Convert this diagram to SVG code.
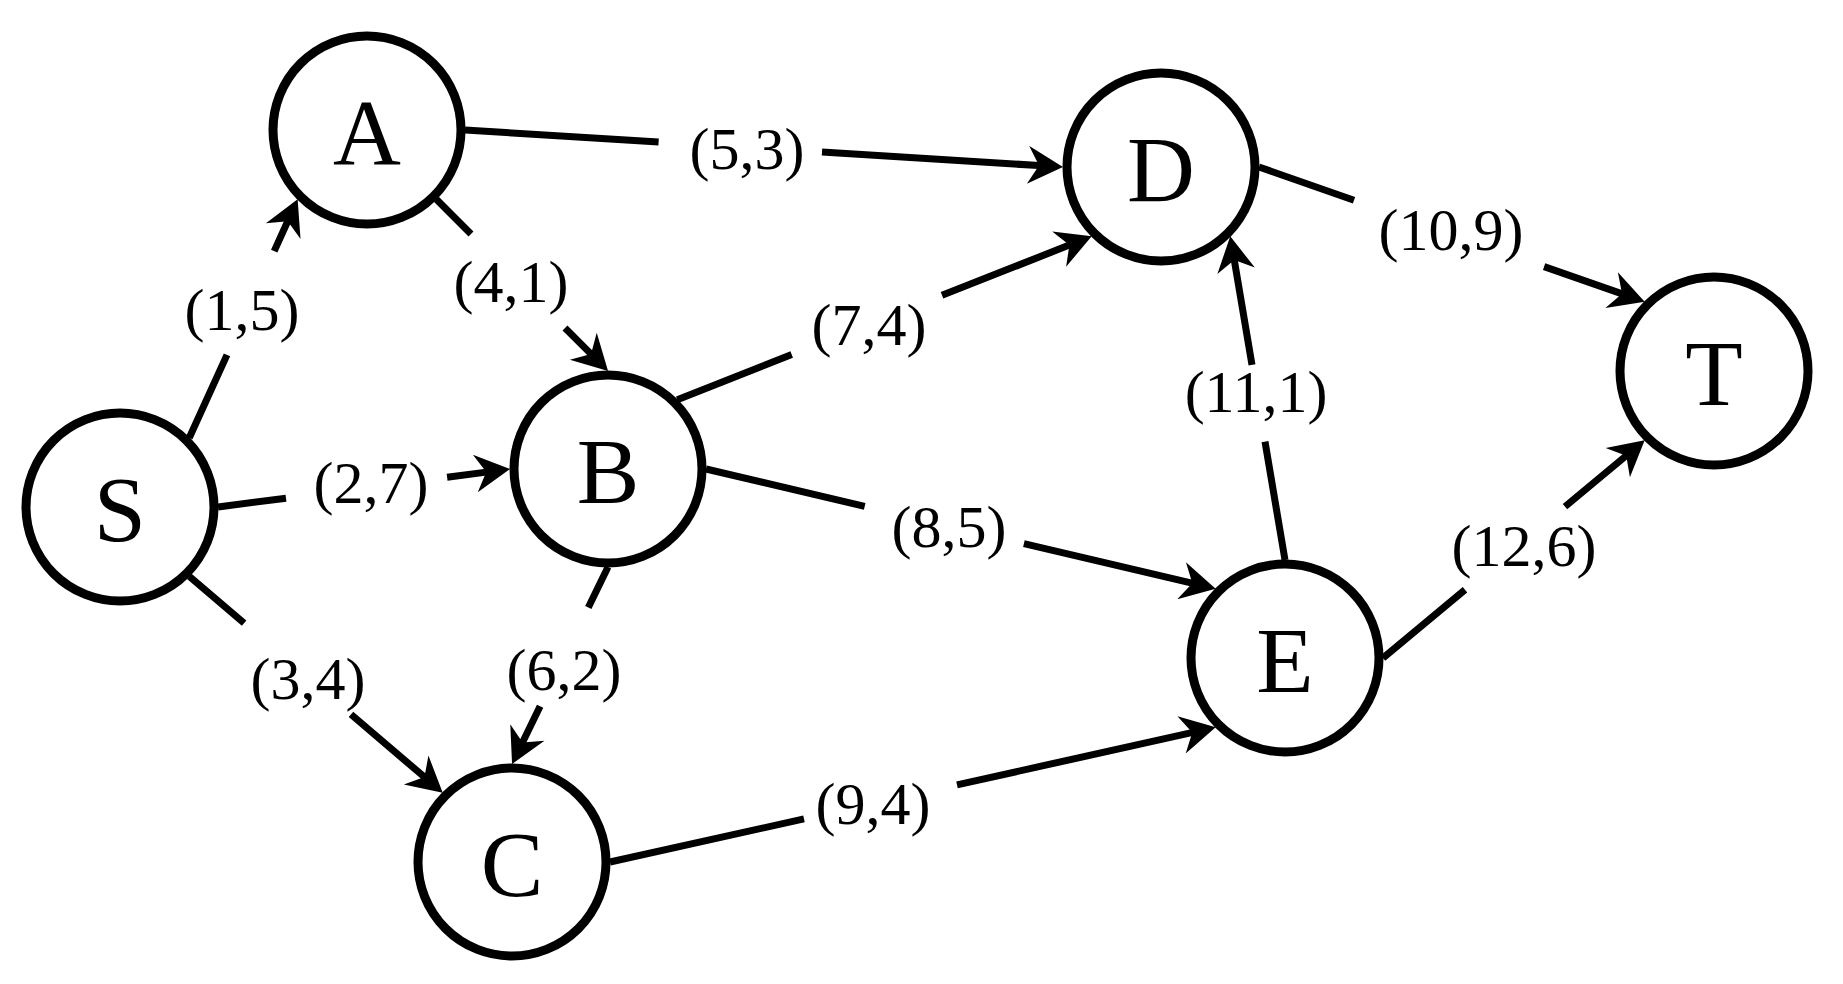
<svg xmlns="http://www.w3.org/2000/svg" width="1843" height="984" viewBox="0 0 1843 984">
<style>
.node circle{fill:#fff;stroke:#000;stroke-width:9}
.node text{font-size:94px;text-anchor:middle;fill:#000}
.edge{stroke:#000;stroke-width:7;fill:none;marker-end:url(#arr)}
.lbl text{font-size:60px;text-anchor:middle;fill:#000}
</style>
<defs>
<marker id="arr" markerUnits="userSpaceOnUse" viewBox="0 0 38 38" markerWidth="38" markerHeight="38" refX="18" refY="19" orient="auto">
<path d="M38,19 L3,0 L14,19 L3,38 Z" fill="#000"/>
</marker>
</defs>
<rect width="1843" height="984" fill="#fff"/>
<g id="connectors">
<path class="edge" d="M189.3,437.7 L227,354.9 M274.2,251.1 L289.4,217.5"/>
<path class="edge" d="M218,507 L286,498.2 M447.1,477.2 L490.2,471.6"/>
<path class="edge" d="M189.3,576.3 L244.1,623.1 M351,714.4 L427.5,779.7"/>
<path class="edge" d="M465,130 L658.6,142 M822,152.1 L1043,165.8"/>
<path class="edge" d="M436.3,199.3 L471,234 M565,328 L593.9,356.9"/>
<path class="edge" d="M677.3,399.7 L791.7,354.6 M942,295.3 L1073.1,243.6"/>
<path class="edge" d="M706,469 L864.7,506.3 M1023.9,543.7 L1196.2,584.1"/>
<path class="edge" d="M608,567 L588.3,607.5 M540.1,706.3 L520.8,746"/>
<path class="edge" d="M610,862 L804,818.9 M957,784.9 L1196.2,731.6"/>
<path class="edge" d="M1259,167 L1354,200.2 M1544.1,266.6 L1625.8,295.1"/>
<path class="edge" d="M1285,560 L1265,441.7 M1252,364.8 L1233.6,256"/>
<path class="edge" d="M1383,658 L1465,589.8 M1565,506.6 L1629.3,453.1"/>
<g class="lbl" font-family="'Liberation Serif', Tinos, 'Times New Roman', Times, serif">
<text x="242" y="330">(1,5)</text>
<text x="371" y="503">(2,7)</text>
<text x="308" y="699">(3,4)</text>
<text x="747" y="169">(5,3)</text>
<text x="511" y="302">(4,1)</text>
<text x="564" y="690">(6,2)</text>
<text x="869" y="345">(7,4)</text>
<text x="949" y="547">(8,5)</text>
<text x="873" y="824">(9,4)</text>
<text x="1451" y="250">(10,9)</text>
<text x="1256" y="412">(11,1)</text>
<text x="1524" y="566">(12,6)</text>
</g>
</g>
<g font-family="'Liberation Serif', Tinos, 'Times New Roman', Times, serif">
<g id="node-S" class="node"><circle cx="120" cy="507" r="94"/><text x="120" y="541">S</text></g>
<g id="node-A" class="node"><circle cx="367" cy="130" r="94"/><text x="367" y="164">A</text></g>
<g id="node-B" class="node"><circle cx="608" cy="469" r="94"/><text x="608" y="503">B</text></g>
<g id="node-C" class="node"><circle cx="512" cy="862" r="94"/><text x="512" y="896">C</text></g>
<g id="node-D" class="node"><circle cx="1161" cy="167" r="94"/><text x="1161" y="201">D</text></g>
<g id="node-E" class="node"><circle cx="1285" cy="658" r="94"/><text x="1285" y="692">E</text></g>
<g id="node-T" class="node"><circle cx="1714" cy="371" r="94"/><text x="1714" y="405">T</text></g>
</g>
</svg>
